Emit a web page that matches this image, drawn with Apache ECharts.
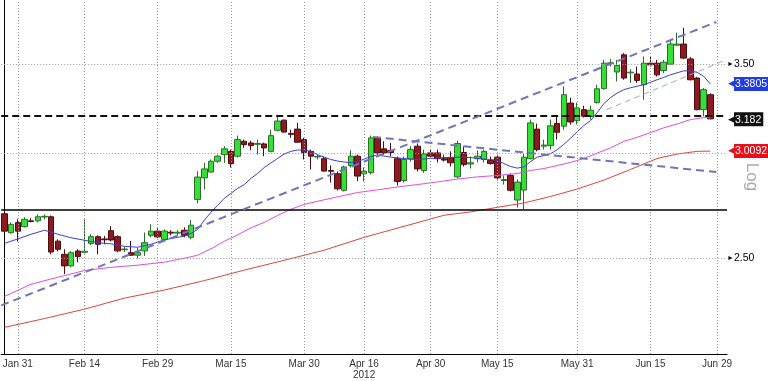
<!DOCTYPE html>
<html><head><meta charset="utf-8">
<script src="https://cdn.jsdelivr.net/npm/echarts@6/dist/echarts.min.js"></script>
<style>html,body{margin:0;padding:0;background:#fff}#c{width:768px;height:381px}</style>
</head><body><div id="c"></div><script>
const dates = ['Jan 27','Jan 30','Jan 31',
'Feb 1','Feb 2','Feb 3','Feb 6','Feb 7','Feb 8','Feb 9','Feb 10','Feb 13','Feb 14','Feb 15','Feb 16','Feb 17',
'Feb 20','Feb 21','Feb 22','Feb 23','Feb 24','Feb 27','Feb 28','Feb 29',
'Mar 1','Mar 2','Mar 5','Mar 6','Mar 7','Mar 8','Mar 9','Mar 12','Mar 13','Mar 14','Mar 15','Mar 16',
'Mar 19','Mar 20','Mar 21','Mar 22','Mar 23','Mar 26','Mar 27','Mar 28','Mar 29','Mar 30',
'Apr 2','Apr 3','Apr 4','Apr 5','Apr 10','Apr 11','Apr 12','Apr 13','Apr 16','Apr 17','Apr 18','Apr 19','Apr 20',
'Apr 23','Apr 24','Apr 25','Apr 26','Apr 27','Apr 30',
'May 2','May 3','May 4','May 7','May 8','May 9','May 10','May 11','May 14','May 15','May 16','May 17','May 18',
'May 21','May 22','May 23','May 24','May 25','May 28','May 29','May 30','May 31',
'Jun 1','Jun 4','Jun 5','Jun 6','Jun 7','Jun 8','Jun 11','Jun 12','Jun 13','Jun 14','Jun 15',
'Jun 18','Jun 19','Jun 20','Jun 21','Jun 22','Jun 25','Jun 26','Jun 27','Jun 28','Jun 29','Jul 2'];

const opens = [2.700,2.613,2.659,2.640,2.667,2.667,2.685,2.686,2.575,2.517,2.467,2.531,2.526,2.565,2.595,2.585,2.622,2.595,2.537,2.524,
2.513,2.532,2.601,2.620,2.583,2.615,2.611,2.624,2.592,2.768,2.873,2.902,2.957,2.991,3.008,2.983,3.061,3.052,3.045,3.047,
3.008,3.120,3.175,3.103,3.126,3.070,3.008,2.979,2.970,2.910,2.894,2.812,2.935,2.983,2.893,2.900,3.079,3.021,3.013,2.970,
2.860,2.968,3.035,2.910,3.000,3.000,2.970,2.975,2.878,3.002,2.943,2.970,2.966,2.962,2.978,2.860,2.885,2.765,2.813,2.970,
3.126,3.035,3.039,3.157,3.142,3.270,3.172,3.233,3.195,3.274,3.354,3.503,3.451,3.555,3.446,3.439,3.376,3.504,3.504,3.460,
3.498,3.615,3.622,3.530,3.415,3.233,3.318];
const closes = [2.620,2.651,2.620,2.674,2.664,2.686,2.688,2.527,2.539,2.467,2.524,2.507,2.530,2.595,2.561,2.581,2.580,2.532,2.540,2.513,
2.524,2.568,2.620,2.594,2.620,2.611,2.615,2.601,2.647,2.877,2.918,2.957,2.983,3.021,2.945,3.070,3.043,3.038,3.049,3.026,
3.091,3.170,3.110,3.098,3.056,3.002,2.983,2.982,2.907,2.906,2.819,2.928,2.983,2.882,2.907,3.079,3.000,3.000,3.002,2.855,
2.966,3.017,2.918,2.995,2.983,2.970,2.963,2.949,3.049,2.940,2.949,2.983,3.008,2.945,2.873,2.865,2.812,2.852,2.978,3.160,
3.017,3.041,3.144,3.109,3.318,3.165,3.243,3.197,3.230,3.352,3.504,3.506,3.490,3.415,3.450,3.401,3.504,3.494,3.434,3.510,
3.622,3.622,3.535,3.405,3.233,3.347,3.182];
const lows = [2.612,2.608,2.573,2.637,2.660,2.660,2.674,2.517,2.530,2.432,2.461,2.483,2.521,2.557,2.517,2.561,2.574,2.526,2.527,2.510,
2.499,2.510,2.592,2.588,2.579,2.601,2.601,2.592,2.583,2.749,2.816,2.900,2.949,2.949,2.925,2.976,3.026,3.013,2.991,2.983,
3.003,3.114,3.107,3.080,3.052,2.966,2.915,2.966,2.905,2.850,2.811,2.806,2.925,2.857,2.855,2.890,2.991,2.991,2.983,2.835,
2.850,2.955,2.905,2.898,2.976,2.951,2.955,2.930,2.870,2.930,2.920,2.951,2.951,2.940,2.860,2.840,2.806,2.729,2.721,2.966,
3.008,3.017,3.017,3.070,3.123,3.151,3.151,3.189,3.178,3.267,3.347,3.484,3.395,3.405,3.386,3.386,3.289,3.484,3.424,3.444,
3.494,3.610,3.528,3.401,3.230,3.196,3.180];
const highs = [2.713,2.660,2.674,2.683,2.679,2.697,2.697,2.692,2.583,2.539,2.530,2.539,2.674,2.606,2.601,2.598,2.643,2.601,2.552,2.576,
2.546,2.614,2.651,2.633,2.628,2.624,2.624,2.637,2.671,2.906,2.949,2.966,2.991,3.035,3.017,3.091,3.070,3.064,3.070,3.054,
3.123,3.196,3.178,3.123,3.160,3.080,3.017,2.991,2.981,2.935,2.905,2.935,3.013,2.991,2.925,3.091,3.087,3.061,3.052,2.981,
2.981,3.035,3.049,3.017,3.017,3.017,2.991,3.008,3.064,3.034,2.981,3.012,3.017,2.981,2.991,2.885,2.895,2.865,2.996,3.178,
3.156,3.070,3.178,3.194,3.366,3.301,3.273,3.255,3.255,3.376,3.524,3.528,3.524,3.565,3.468,3.484,3.545,3.545,3.524,3.524,
3.648,3.694,3.726,3.541,3.422,3.357,3.326];

// moving averages at sample candles
const maBlueIdx = [0,2,4,6,8,10,12,14,16,18,20,22,24,26,27,28,29,30,31,32,33,34,35,36,37,38,39,40,41,42,43,44,45,46,47,48,49,50,51,52,53,54,55,56,58,60,62,64,66,68,70,72,73,74,75,76,77,78,79,80,81,82,83,84,85,86,87,88,89,90,91,92,93,94,95,96,97,98,99,100,101,102,103,104,105,106];
const maBlueVal = [2.565,2.585,2.606,2.624,2.606,2.590,2.579,2.568,2.563,2.552,2.548,2.561,2.581,2.592,2.597,2.610,2.628,2.670,2.707,2.739,2.773,2.797,2.821,2.840,2.870,2.895,2.925,2.948,2.971,2.994,3.008,3.015,3.015,3.008,2.991,2.978,2.966,2.958,2.953,2.950,2.955,2.968,2.981,2.989,2.978,2.971,2.966,2.971,2.976,2.978,2.976,2.968,2.966,2.961,2.945,2.930,2.922,2.928,2.955,2.978,2.986,2.996,3.017,3.045,3.077,3.112,3.145,3.172,3.216,3.267,3.301,3.327,3.347,3.358,3.367,3.376,3.390,3.405,3.419,3.434,3.446,3.458,3.458,3.449,3.425,3.3805];
const maPinkIdx = [0,4,8,12,16,20,24,27,29,31,33,35,37,39,41,43,45,47,50,53,56,59,62,65,68,71,74,77,79,81,83,85,87,89,91,93,95,97,99,101,103,105,106];
const maPinkVal = [2.340,2.390,2.419,2.447,2.461,2.470,2.483,2.500,2.513,2.541,2.574,2.603,2.635,2.660,2.692,2.721,2.744,2.759,2.780,2.801,2.814,2.828,2.840,2.853,2.867,2.878,2.885,2.895,2.910,2.920,2.935,2.951,2.971,2.999,3.026,3.060,3.082,3.107,3.133,3.154,3.178,3.189,3.192];
const maRedIdx = [0,6,12,18,24,30,36,42,48,54,60,66,70,74,78,82,86,90,94,98,101,104,106];
const maRedVal = [2.218,2.252,2.289,2.333,2.366,2.405,2.449,2.491,2.535,2.592,2.642,2.693,2.709,2.730,2.751,2.782,2.818,2.862,2.915,2.971,2.994,3.008,3.0092];

// drawn trend lines (x in candle index units, y in price)
const trendUpX = [-0.5, 106.9], trendUpY = [2.304, 3.763];
const trendDownX = [55.3, 106.9], trendDownY = [3.084, 2.902];
const channelX = [90.4, 108.35], channelY = [3.233, 3.524];

const labelIdx = [2,12,23,34,45,54,64,74,86,97,107];
const minorIdx = [7,18,29,40,50,59,69,80,92,102];
const gridLevels = [2.5, 3.0, 3.5];
const resistance = 3.196, support = 2.721;
const lastBlue = 3.3805, lastClose = 3.182, lastRed = 3.0092;

const candles = dates.map((d, i) => i < opens.length ? [opens[i], closes[i], lows[i], highs[i]] : '-');
const pairs = (a, b) => a.map((x, i) => [x, b[i]]);
const font = "'Liberation Sans', Arial, sans-serif";

function tag(value, text, bg) {
  return {
    yAxis: value,
    lineStyle: {width: 0, color: 'rgba(0,0,0,0)'},
    label: {
      show: true, position: 'end', distance: 1,
      formatter: '{a|◀}{b|' + text + '}',
      rich: {
        a: {color: bg, fontSize: 9, padding: [0, -1, 0, 0]},
        b: {backgroundColor: bg, color: '#fff', fontSize: 10.5, fontFamily: font, padding: [2, 2, 1, 1]}
      }
    }
  };
}

const chart = echarts.init(document.getElementById('c'), null, {renderer: 'canvas'});
chart.setOption({
  animation: false,
  backgroundColor: '#fff',
  grid: {left: 0, right: 34, top: 0, bottom: 26, containLabel: false},
  xAxis: [{
    type: 'category', data: dates, boundaryGap: true,
    axisLine: {lineStyle: {color: '#000', width: 1}},
    axisTick: {alignWithLabel: true, length: 4, interval: (i) => labelIdx.includes(i), lineStyle: {color: '#333'}},
    axisLabel: {
      interval: (i) => labelIdx.includes(i), margin: 5, color: '#333', fontSize: 10, fontFamily: "'Liberation Sans Narrow', 'Liberation Sans', sans-serif", lineHeight: 11,
      formatter: (v) => v === 'Apr 16' ? 'Apr 16\n2012' : v
    },
    splitLine: {show: false}
  }, {
    type: 'category', data: dates, boundaryGap: true, position: 'bottom',
    axisLine: {show: false},
    axisTick: {alignWithLabel: true, length: 2, interval: (i) => minorIdx.includes(i), lineStyle: {color: '#555'}},
    axisLabel: {show: false}, splitLine: {show: false}
  }, {
    type: 'value', min: -0.5, max: dates.length - 0.5, show: false
  }],
  yAxis: [{
    type: 'log', logBase: 10, min: 2.118, max: 3.909, position: 'right',
    axisLine: {show: true, lineStyle: {color: '#000', width: 1}},
    axisTick: {show: false}, axisLabel: {show: false}, splitLine: {show: false},
    name: 'Log', nameLocation: 'middle', nameGap: 16, nameRotate: -90,
    nameTextStyle: {color: '#aaa', fontSize: 17, fontFamily: font}
  }],
  series: [{
    type: 'line', data: [], z: 1, silent: true,
    markLine: {
      symbol: ['none', 'none'], silent: true,
      data: gridLevels.map(v => ({
        yAxis: v, lineStyle: {type: [1, 2], color: '#999', width: 1},
        label: v === 3.0 ? {show: false} : {show: true, position: 'end', distance: 0,
          formatter: '{t|►}{v|' + v.toFixed(2) + '}',
          rich: {t: {fontSize: 7, color: '#000'}, v: {fontSize: 10.5, color: '#000', fontFamily: font}}}
      })).concat(labelIdx.map(i => ({
        xAxis: dates[i], lineStyle: {type: [1, 2], color: '#999', width: 1}, label: {show: false}
      })))
    }
  }, {
    type: 'candlestick', data: candles, barWidth: 6, z: 3,
    itemStyle: {color: '#35e035', color0: '#8e1a20', borderColor: '#2c6d2c', borderColor0: '#4e0c10', borderWidth: 1}
  }, {
    type: 'line', data: pairs(maRedIdx, maRedVal), symbol: 'none', connectNulls: true, z: 4,
    lineStyle: {color: '#e0453c', width: 1},
    markLine: {symbol: ['none', 'none'], silent: true, data: [tag(lastRed, '3.0092', '#e5101a')]}
  }, {
    type: 'line', data: pairs(maPinkIdx, maPinkVal), symbol: 'none', connectNulls: true, z: 4,
    lineStyle: {color: '#e04ee0', width: 1}
  }, {
    type: 'line', data: pairs(maBlueIdx, maBlueVal), symbol: 'none', connectNulls: true, z: 4,
    lineStyle: {color: '#3a3fd8', width: 1},
    markLine: {symbol: ['none', 'none'], silent: true, data: [tag(lastBlue, '3.3805', '#1e3be6')]}
  }, {
    type: 'line', data: [], z: 6, silent: true,
    markLine: {
      symbol: ['none', 'none'], silent: true,
      data: [
        {yAxis: resistance, lineStyle: {type: [7, 4], color: '#111', width: 2}, label: {show: false}},
        {yAxis: support, lineStyle: {type: 'solid', color: '#000', width: 1.5}, label: {show: false}},
        tag(lastClose, '3.182', '#111')
      ]
    }
  }, {
    type: 'line', xAxisIndex: 2, data: pairs(trendUpX, trendUpY), symbol: 'none', z: 5,
    lineStyle: {color: '#6f75b5', width: 2, type: [8, 5]}
  }, {
    type: 'line', xAxisIndex: 2, data: pairs(trendDownX, trendDownY), symbol: 'none', z: 5,
    lineStyle: {color: '#6f75b5', width: 2, type: [8, 5]}
  }, {
    type: 'line', xAxisIndex: 2, data: pairs(channelX, channelY), symbol: 'none', z: 5,
    lineStyle: {color: '#a3a9cf', width: 1, type: [6, 4]}
  }]
});
</script></body></html>
